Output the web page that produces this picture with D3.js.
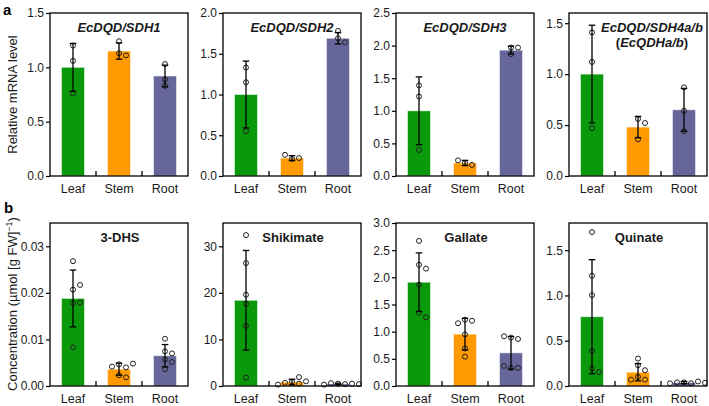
<!DOCTYPE html>
<html><head><meta charset="utf-8">
<script src="https://cdn.jsdelivr.net/npm/d3@7"></script>
<style>
body{margin:0;background:#fff;}
svg{display:block;font-family:"Liberation Sans",Arial,sans-serif;}
</style></head>
<body>
<svg id="chart" width="709" height="406"></svg>
<script>
const categories = ["Leaf", "Stem", "Root"];
const titlesA = ["EcDQD/SDH1", "EcDQD/SDH2", "EcDQD/SDH3", "EcDQD/SDH4a/b"];
const titlesB = ["3-DHS", "Shikimate", "Gallate", "Quinate"];

const yMaxA = [1.5, 2.0, 2.5, 1.6];
const ticksA = [[0, 0.5, 1.0, 1.5], [0, 0.5, 1.0, 1.5, 2.0], [0, 0.5, 1.0, 1.5, 2.0, 2.5], [0, 0.5, 1.0, 1.5]];
const meansA = [[1.0, 1.15, 0.92], [1.0, 0.22, 1.69], [1.0, 0.2, 1.93], [1.0, 0.48, 0.65]];
const sdA = [[0.22, 0.075, 0.10], [0.41, 0.03, 0.07], [0.52, 0.04, 0.06], [0.48, 0.105, 0.21]];
const pointsA = [
  [[1.2, 1.06, 0.76], [1.24, 1.13, 1.11], [1.03, 0.89, 0.83]],
  [[1.33, 1.15, 0.55], [0.21, 0.22, 0.26], [1.78, 1.69, 1.64]],
  [[1.39, 1.22, 0.40], [0.20, 0.17, 0.24], [1.87, 1.97, 1.97]],
  [[1.41, 1.12, 0.47], [0.56, 0.52, 0.36], [0.87, 0.64, 0.44]]
];

const yMaxB = [0.035, 35, 3.0, 1.8];
const ticksB = [[0, 0.01, 0.02, 0.03], [0, 10, 20, 30], [0, 0.5, 1.0, 1.5, 2.0, 2.5, 3.0], [0, 0.5, 1.0, 1.5]];
const tickFormatsB = [".2f", "d", ".1f", ".1f"];
const meansB = [[0.0188, 0.0036, 0.0065], [18.4, 0.85, 0.45], [1.91, 0.955, 0.61], [0.765, 0.152, 0.038]];
const sdB = [[0.0061, 0.0013, 0.0024], [10.7, 0.6, 0.15], [0.54, 0.29, 0.30], [0.63, 0.095, 0.012]];
const pointsB = [
  [[0.0268, 0.0207, 0.0217, 0.0178, 0.0179, 0.0083], [0.00465, 0.0040, 0.00416, 0.0048, 0.0023, 0.00186], [0.01015, 0.00743, 0.0070, 0.00572, 0.00515, 0.00358]],
  [[32.4, 26.4, 19.6, 17.65, 12.93, 1.8], [0.9, 0.5, 1.9, 0.7, 1.0, 0.3], [0.5, 0.4, 0.6, 0.5, 0.3, 0.4]],
  [[2.67, 2.23, 2.16, 1.865, 1.346, 1.266], [1.22, 1.2, 1.155, 0.95, 0.69, 0.54], [0.89, 0.865, 0.915, 0.333, 0.333, 0.37]],
  [[1.70, 1.217, 1.003, 0.387, 0.192, 0.155], [0.303, 0.229, 0.174, 0.10, 0.07, 0.07], [0.04, 0.03, 0.04, 0.05, 0.03, 0.035]]
];

const colors = ["#0a990a", "#ff9a00", "#66669a"];
const svg = d3.select("#chart");
const FONT = "Liberation Sans, Arial, sans-serif";
const TXT = "#1a1a1a";

function panel(i, top, bottom, yMax, ticks, fmt, means, sds, pts) {
  const x0 = 50 + i * 173, w = 138;
  const g = svg.append("g");
  const x = d3.scaleBand().domain(categories).range([x0, x0 + w]).paddingInner(0.5).paddingOuter(0.25);
  const y = d3.scaleLinear().domain([0, yMax]).range([bottom, top]);

  // bars
  g.selectAll("rect.bar").data(categories).enter().append("rect")
    .attr("x", d => x(d)).attr("width", x.bandwidth())
    .attr("y", (d, k) => y(means[k])).attr("height", (d, k) => y(0) - y(means[k]))
    .attr("fill", (d, k) => colors[k])
    .attr("stroke", "#fff").attr("stroke-opacity", 0.5).attr("stroke-width", 1);

  // points with simple dodge
  const r = 2.5, step = 7;
  categories.forEach((c, k) => {
    const cx = x(c) + x.bandwidth() / 2;
    const placed = [];
    pts[k].forEach(v => {
      const py = y(v);
      const offs = [0, step, -step, 2 * step, -2 * step, 3 * step, -3 * step];
      let px = cx;
      for (const o of offs) {
        const cand = cx + o;
        if (placed.every(p => Math.hypot(p[0] - cand, p[1] - py) >= 6)) { px = cand; break; }
      }
      placed.push([px, py]);
    });
    g.selectAll(null).data(placed).enter().append("circle")
      .attr("cx", p => p[0]).attr("cy", p => p[1]).attr("r", r)
      .attr("fill", "none").attr("stroke", "#222").attr("stroke-width", 1);
    // error bar
    const m = means[k], s = sds[k];
    const lo = Math.max(0, m - s);
    const eb = g.append("g").attr("stroke", "#000").attr("stroke-width", 1.3);
    eb.append("line").attr("x1", cx).attr("x2", cx).attr("y1", y(m + s)).attr("y2", y(lo));
    eb.append("line").attr("x1", cx - 3.3).attr("x2", cx + 3.3).attr("y1", y(m + s)).attr("y2", y(m + s));
    eb.append("line").attr("x1", cx - 3.3).attr("x2", cx + 3.3).attr("y1", y(lo)).attr("y2", y(lo));
  });

  // frame
  g.append("rect").attr("x", x0).attr("y", top).attr("width", w).attr("height", bottom - top)
    .attr("fill", "none").attr("stroke", "#000").attr("stroke-width", 1.3);

  // y axis
  const ax = g.append("g").attr("transform", `translate(${x0},0)`)
    .call(d3.axisLeft(y).tickValues(ticks).tickSize(4).tickPadding(2).tickFormat(d3.format(fmt)));
  ax.select(".domain").remove();
  ax.selectAll(".tick line").attr("stroke", "#000").attr("stroke-width", 1.2);
  ax.selectAll(".tick text").attr("font-size", 12).attr("font-family", FONT).attr("fill", TXT);

  // inner category boundary ticks
  [1, 2].forEach(j => {
    const bx = x(categories[j]) - (x.step() - x.bandwidth()) / 2;
    g.append("line").attr("x1", bx).attr("x2", bx).attr("y1", bottom).attr("y2", bottom - 5)
      .attr("stroke", "#000").attr("stroke-width", 1.3);
  });

  // category labels
  g.selectAll("text.cat").data(categories).enter().append("text")
    .attr("x", d => x(d) + x.bandwidth() / 2).attr("y", bottom + 17)
    .attr("text-anchor", "middle").attr("font-size", 12.5).attr("fill", TXT).text(d => d);
  return {x0, w};
}

// row a
titlesA.forEach((t, i) => {
  const p = panel(i, 13, 176, yMaxA[i], ticksA[i], ".1f", meansA[i], sdA[i], pointsA[i]);
  if (i < 3) {
    svg.append("text").attr("x", p.x0 + p.w / 2).attr("y", 31.5).attr("text-anchor", "middle")
      .attr("font-size", 13).attr("font-weight", "bold").attr("font-style", "italic").attr("fill", TXT).text(t);
  } else {
    svg.append("text").attr("x", 652).attr("y", 31.5).attr("text-anchor", "middle")
      .attr("font-size", 13).attr("font-weight", "bold").attr("font-style", "italic").attr("fill", TXT).text(t);
    const t2 = svg.append("text").attr("x", 652).attr("y", 46.5).attr("text-anchor", "middle")
      .attr("font-size", 13).attr("font-weight", "bold").attr("fill", TXT);
    t2.append("tspan").text("(");
    t2.append("tspan").attr("font-style", "italic").text("EcQDHa/b");
    t2.append("tspan").text(")");
  }
});

// row b
titlesB.forEach((t, i) => {
  const p = panel(i, 223, 386, yMaxB[i], ticksB[i], tickFormatsB[i], meansB[i], sdB[i], pointsB[i]);
  svg.append("text").attr("x", p.x0 + p.w / 2 + 1).attr("y", 241.5).attr("text-anchor", "middle")
    .attr("font-size", 13).attr("font-weight", "bold").attr("fill", TXT).text(t);
});

// panel letters
svg.append("text").attr("x", 3).attr("y", 15).attr("font-size", 15).attr("font-weight", "bold").attr("fill", "#000").text("a");
svg.append("text").attr("x", 4).attr("y", 213).attr("font-size", 15).attr("font-weight", "bold").attr("fill", "#000").text("b");

// y titles
svg.append("text").attr("transform", "translate(16.5,94.5) rotate(-90)").attr("text-anchor", "middle")
  .attr("font-size", 13).attr("fill", TXT).text("Relative mRNA level");
const yt = svg.append("text").attr("transform", "translate(16.5,304) rotate(-90)").attr("text-anchor", "middle")
  .attr("font-size", 13).attr("fill", TXT);
yt.append("tspan").text("Concentration (µmol [g FW]");
yt.append("tspan").attr("font-size", 9).attr("dy", -5).text("−1");
yt.append("tspan").attr("dy", 5).text(")");
</script>
</body></html>
